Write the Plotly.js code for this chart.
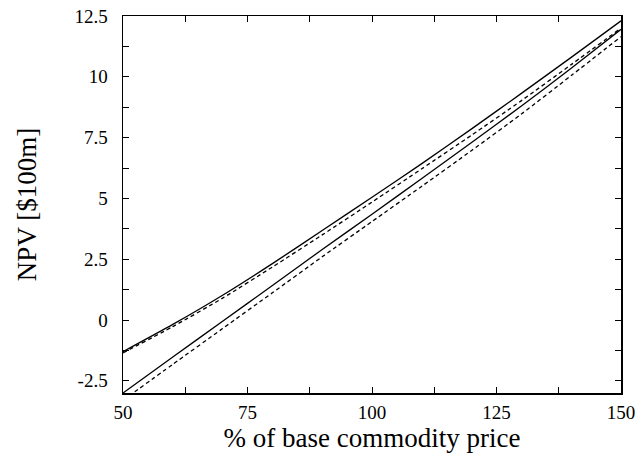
<!DOCTYPE html>
<html>
<head>
<meta charset="utf-8">
<script src="https://cdn.plot.ly/plotly-3.0.1.min.js"></script>
<style>html,body{margin:0;padding:0;background:#fff;}#chart{width:637px;height:461px;}</style>
</head>
<body>
<div id="chart"></div>
<script>
// % of base commodity price
var price = [50, 60, 70, 80, 90, 100, 110, 120, 130, 140, 150];
// NPV [$100m] series
var curveSolid  = [-1.3, -0.18, 1.02, 2.32, 3.68, 5.05, 6.43, 7.86, 9.32, 10.8, 12.3];
var curveDashed = [-1.35, -0.27, 0.9, 2.18, 3.5, 4.85, 6.22, 7.6, 9.02, 10.5, 12.0];
var lineSolid   = [-3.0, -1.52, -0.05, 1.42, 2.9, 4.35, 5.82, 7.3, 8.8, 10.35, 11.95];
var lineDashed  = [-3.3, -1.82, -0.35, 1.12, 2.6, 4.05, 5.5, 6.97, 8.47, 10.05, 11.65];

var xTickVals = [50, 75, 100, 125, 150];
var xTickText = ['50', '75', '100', '125', '150'];
var yTickVals = [-2.5, 0, 2.5, 5, 7.5, 10, 12.5];
var yTickText = ['-2.5', '0', '2.5', '5', '7.5', '10', '12.5'];

function tr(y, dash) {
  return {x: price, y: y, type: 'scatter', mode: 'lines',
    line: {color: '#000', width: 1.3, dash: dash, shape: 'spline', smoothing: 0.6},
    showlegend: false, hoverinfo: 'skip'};
}
var data = [
  tr(curveSolid, 'solid'),
  tr(curveDashed, '4px,3px'),
  tr(lineSolid, 'solid'),
  tr(lineDashed, '4px,3px')
];
var fam = '"Liberation Serif", "Times New Roman", serif';
var layout = {
  width: 637, height: 461,
  margin: {l: 123, r: 16, t: 16, b: 68},
  paper_bgcolor: '#fff', plot_bgcolor: '#fff',
  font: {family: fam, color: '#000'},
  xaxis: {
    range: [50, 150], showgrid: false, zeroline: false,
    showline: true, linecolor: '#000', linewidth: 1.5, mirror: 'ticks',
    ticks: 'inside', ticklen: 6, tickwidth: 1, tickcolor: '#000',
    tickvals: xTickVals, ticktext: xTickText, ticklabelstandoff: 2,
    tickfont: {family: fam, size: 19, color: '#000'},
    minor: {dtick: 12.5, tick0: 50, ticks: 'inside', ticklen: 6, tickwidth: 1, tickcolor: '#000', showgrid: false},
    title: {text: '% of base commodity price', font: {family: fam, size: 27, color: '#000'}, standoff: 4}
  },
  yaxis: {
    range: [-3, 12.5], showgrid: false, zeroline: false,
    showline: true, linecolor: '#000', linewidth: 1.5, mirror: 'ticks',
    ticks: 'inside', ticklen: 6, tickwidth: 1, tickcolor: '#000',
    tickvals: yTickVals, ticktext: yTickText, ticklabelstandoff: 10,
    tickfont: {family: fam, size: 19, color: '#000'},
    minor: {dtick: 1.25, tick0: 0, ticks: 'inside', ticklen: 6, tickwidth: 1, tickcolor: '#000', showgrid: false},
    title: {text: 'NPV [$100m]', font: {family: fam, size: 27, color: '#000'}, standoff: 30}
  }
};
Plotly.newPlot('chart', data, layout, {displayModeBar: false, staticPlot: true});
</script>
</body>
</html>
